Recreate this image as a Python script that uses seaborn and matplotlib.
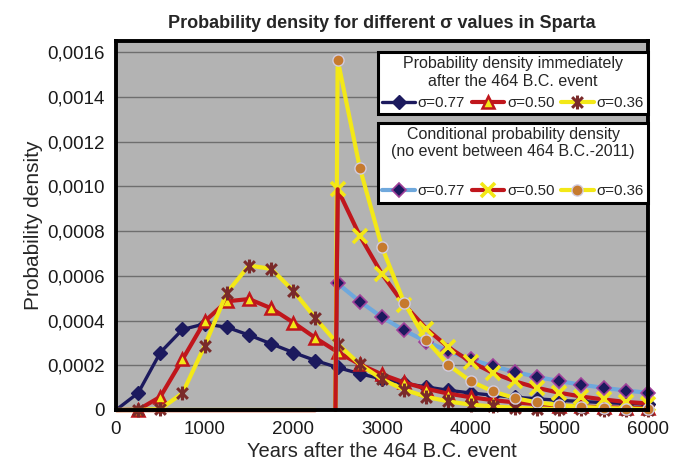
import numpy as np
import pandas as pd
import seaborn as sns
import matplotlib.pyplot as plt
from matplotlib.lines import Line2D
from matplotlib.path import Path
from matplotlib.ticker import FuncFormatter, MultipleLocator

# years after the 464 B.C. event
years = list(range(0, 6001, 250))
cond_years = [2475] + list(range(2500, 6001, 250))
zero_years = list(range(0, 2251, 250))

# probability density immediately after the event
imm_077 = [0, 0.000076, 0.000257, 0.000360, 0.000385, 0.000370, 0.000335, 0.000296, 0.000257,
           0.000221, 0.000190, 0.000162, 0.000139, 0.000119, 0.000103, 0.000088, 0.000076,
           0.000066, 0.000057, 0.000050, 0.000043, 0.000038, 0.000033, 0.000029, 0.000026]
imm_050 = [0, 0.000001, 0.000059, 0.000226, 0.000396, 0.000486, 0.000496, 0.000455, 0.000391,
           0.000322, 0.000259, 0.000204, 0.000159, 0.000123, 0.000095, 0.000073, 0.000057,
           0.000044, 0.000034, 0.000026, 0.000020, 0.000016, 0.000012, 0.000010, 0.000008]
imm_036 = [0, 0.0, 0.000004, 0.000075, 0.000287, 0.000524, 0.000646, 0.000631, 0.000533,
           0.000410, 0.000296, 0.000204, 0.000137, 0.000091, 0.000059, 0.000038, 0.000024,
           0.000016, 0.000010, 0.000006, 0.000004, 0.000003, 0.000002, 0.000001, 0.000001]

# conditional probability density (no event between 464 B.C. and 2011)
cond_077 = [0, 0.000566, 0.000485, 0.000415, 0.000356, 0.000306, 0.000263, 0.000227, 0.000196,
            0.000170, 0.000148, 0.000129, 0.000113, 0.000099, 0.000087, 0.000077]
cond_050 = [0, 0.000987, 0.000779, 0.000608, 0.000471, 0.000364, 0.000280, 0.000216, 0.000166,
            0.000128, 0.000099, 0.000077, 0.000060, 0.000047, 0.000036, 0.000029]
cond_036 = [0, 0.001567, 0.001083, 0.000728, 0.000480, 0.000312, 0.000201, 0.000129, 0.000083,
            0.000053, 0.000034, 0.000022, 0.000014, 0.000009, 0.000006, 0.000004]

sigma_labels = ["σ=0.77", "σ=0.50", "σ=0.36"]

navy = "#1C1A5E"
red = "#C0161C"
yellow = "#F3E817"
brown = "#7A2A2A"
lblue = "#6FA8DC"
orange = "#C67A2E"

star = Path([(-1, -1), (1, 1), (-1, 1), (1, -1), (0, -1.3), (0, 1.3)],
            [Path.MOVETO, Path.LINETO, Path.MOVETO, Path.LINETO, Path.MOVETO, Path.LINETO])

sns.set_style("white")
plt.rcParams["font.family"] = ["Liberation Sans", "DejaVu Sans"]

fig = plt.figure(figsize=(6.88, 4.63), dpi=100)
ax = fig.add_axes([0.1686, 0.1145, 0.7732, 0.797])
ax.set_facecolor("#B3B3B3")

imm = pd.DataFrame({"year": years, "s077": imm_077, "s050": imm_050, "s036": imm_036})
cond = pd.DataFrame({"year": cond_years, "s077": cond_077, "s050": cond_050, "s036": cond_036})
zeros = pd.DataFrame({"year": zero_years, "v": [0.0] * len(zero_years)})

common = dict(ax=ax, estimator=None, sort=False, clip_on=False, zorder=3)

sns.lineplot(data=imm, x="year", y="s077", color=navy, lw=2.4, marker="D", markersize=7,
             markerfacecolor=navy, markeredgecolor=navy, markeredgewidth=1, markevery=slice(1, None), **common)
sns.lineplot(data=imm, x="year", y="s050", color=red, lw=3, marker="^", markersize=9,
             markerfacecolor=yellow, markeredgecolor=red, markeredgewidth=1.8, markevery=slice(1, None), **common)
sns.lineplot(data=imm, x="year", y="s036", color=yellow, lw=3, marker=star, markersize=10,
             markerfacecolor="none", markeredgecolor=brown, markeredgewidth=2.2, markevery=slice(1, None), **common)

sns.lineplot(data=zeros, x="year", y="v", color=yellow, lw=3, **common)
sns.lineplot(data=zeros, x="year", y="v", color=red, lw=2.5, **common)
sns.lineplot(data=cond, x="year", y="s077", color=lblue, lw=3, marker="D", markersize=7,
             markerfacecolor=navy, markeredgecolor="#A0409A", markeredgewidth=1.2, markevery=slice(1, None), **common)
sns.lineplot(data=cond, x="year", y="s050", color=red, lw=3, marker="x", markersize=10,
             markerfacecolor=yellow, markeredgecolor=yellow, markeredgewidth=2.6, markevery=slice(1, None), **common)
sns.lineplot(data=cond, x="year", y="s036", color=yellow, lw=3, marker="o", markersize=8,
             markerfacecolor=orange, markeredgecolor="#D2CCE0", markeredgewidth=1, markevery=slice(1, None), **common)
# the jump of the sigma=0.50 conditional curve sits in front of the yellow one
sns.lineplot(data=cond.iloc[:2], x="year", y="s050", color=red, lw=3, ax=ax, estimator=None,
             sort=False, clip_on=False, zorder=3.5)

ax.set_xlim(0, 6000)
ax.set_ylim(0, 0.00165)
ax.xaxis.set_major_locator(MultipleLocator(1000))
ax.yaxis.set_major_locator(MultipleLocator(0.0002))
ax.yaxis.set_major_formatter(FuncFormatter(lambda v, p: "0" if abs(v) < 1e-12 else f"{v:.4f}".replace(".", ",")))
ax.grid(axis="y", color="#6E6E6E", lw=1)
ax.set_axisbelow(True)
for s in ax.spines.values():
    s.set_linewidth(2.8)
    s.set_color("black")
    s.set_zorder(5)
ax.tick_params(axis="both", direction="out", length=5, width=1, labelsize=13.5, colors="black", pad=3)
ax.tick_params(axis="both", labelcolor="#1a1a1a")

ax.set_xlabel("Years after the 464 B.C. event", fontsize=14.5, labelpad=3)
ax.set_ylabel("Probability density", fontsize=15, labelpad=3)
ax.set_title("Probability density for different σ values in Sparta", fontsize=13,
             fontweight="bold", pad=9)

h1 = [
    Line2D([], [], color=navy, lw=2.4, marker="D", markersize=7, mfc=navy, mec=navy),
    Line2D([], [], color=red, lw=3, marker="^", markersize=9, mfc=yellow, mec=red, mew=1.8),
    Line2D([], [], color=yellow, lw=3, marker=star, markersize=10, mfc="none", mec=brown, mew=2.2),
]
h2 = [
    Line2D([], [], color=lblue, lw=3, marker="D", markersize=7, mfc=navy, mec="#A0409A", mew=1.2),
    Line2D([], [], color=red, lw=3, marker="x", markersize=10, mec=yellow, mew=2.6),
    Line2D([], [], color=yellow, lw=3, marker="o", markersize=8, mfc=orange, mec="#D2CCE0", mew=1),
]

leg_kw = dict(ncol=3, fontsize=10.8, title_fontsize=11.5, handlelength=2.15, handletextpad=0.2,
              columnspacing=0.45, fancybox=False, framealpha=1, edgecolor="black",
              borderpad=0.28, borderaxespad=0.0, loc="upper right")
leg1 = ax.legend(h1, sigma_labels, title="Probability density immediately\nafter the 464 B.C. event",
                 bbox_to_anchor=(1.0, 0.97), **leg_kw)
leg1.get_frame().set_linewidth(2.2)
leg1.get_title().set_multialignment("center")
leg1.set_zorder(6)
ax.add_artist(leg1)
leg2 = ax.legend(h2, sigma_labels, title="Conditional probability density\n(no event between 464 B.C.-2011)\n",
                 bbox_to_anchor=(1.0, 0.778), **leg_kw)
leg2.get_frame().set_linewidth(2.2)
leg2.get_title().set_multialignment("center")
leg2.set_zorder(6)

fig.savefig("out.png", dpi=100)
